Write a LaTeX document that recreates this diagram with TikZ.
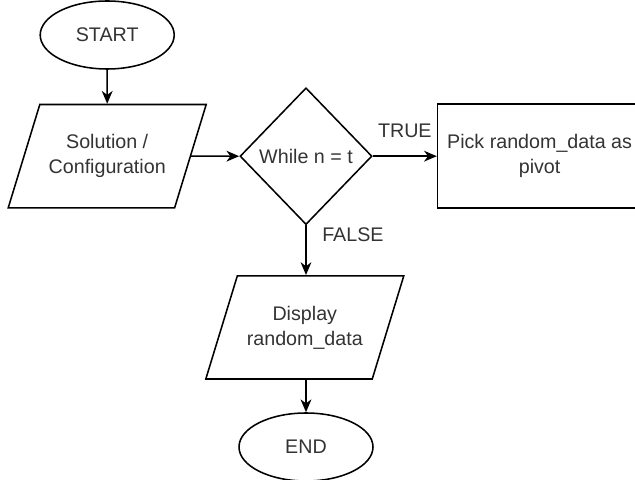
\documentclass[tikz,border=0pt]{standalone}
\usepackage{fontspec}
\setmainfont{Liberation Sans}
\usetikzlibrary{arrows.meta,shapes.geometric}

\begin{document}
\begin{tikzpicture}[
  every node/.style={font=\fontsize{14}{17.8}\selectfont,text=black!80},
  term/.style={draw,ellipse,minimum width=3.35cm,minimum height=1.7cm,inner sep=0pt},
  io/.style={draw,trapezium,trapezium left angle=73,trapezium right angle=107,
    trapezium stretches body=true,inner xsep=0.17cm,inner ysep=0.75cm,
    minimum width=4.95cm,minimum height=2.58cm,align=center},
  decision/.style={draw,diamond,minimum width=3.3cm,minimum height=3.42cm,inner sep=0pt},
  box/.style={draw,rectangle,minimum width=5.1cm,minimum height=2.6cm,align=center},
  line width=1.1pt,
  >={Stealth[length=0.32cm,width=0.27cm,inset=0.1cm]}
]
  \useasboundingbox (0,0) rectangle (15.875,11.975);
  \clip (0,0) rectangle (15.875,11.975);

  % start / input
  \node[term] (start) at (2.68,11.1) {START};
  \node[io]   (conf)  at (2.68,8.07) {Solution /\\ Configuration};

  % loop test and its branch
  \node[decision] (loop)  at (7.65,8.07) {While n = t};
  \node[box]      (pivot) at (13.49,8.07) {Pick random\_data as\\ pivot};

  % output / end
  \node[io]   (show) at (7.62,3.79) {Display\\ random\_data};
  \node[term] (end)  at (7.65,0.8) {END};

  \draw[->] (start) -- (conf);
  \draw[->] (conf) -- (loop);
  \draw[->] (loop) -- node[above,yshift=0.33cm] {TRUE} (pivot);
  \draw[->] (loop) -- node[pos=0.18,right,xshift=0.27cm] {FALSE} (show.north -| loop);
  \draw[->] (show.south -| end) -- (end);
\end{tikzpicture}
\end{document}
